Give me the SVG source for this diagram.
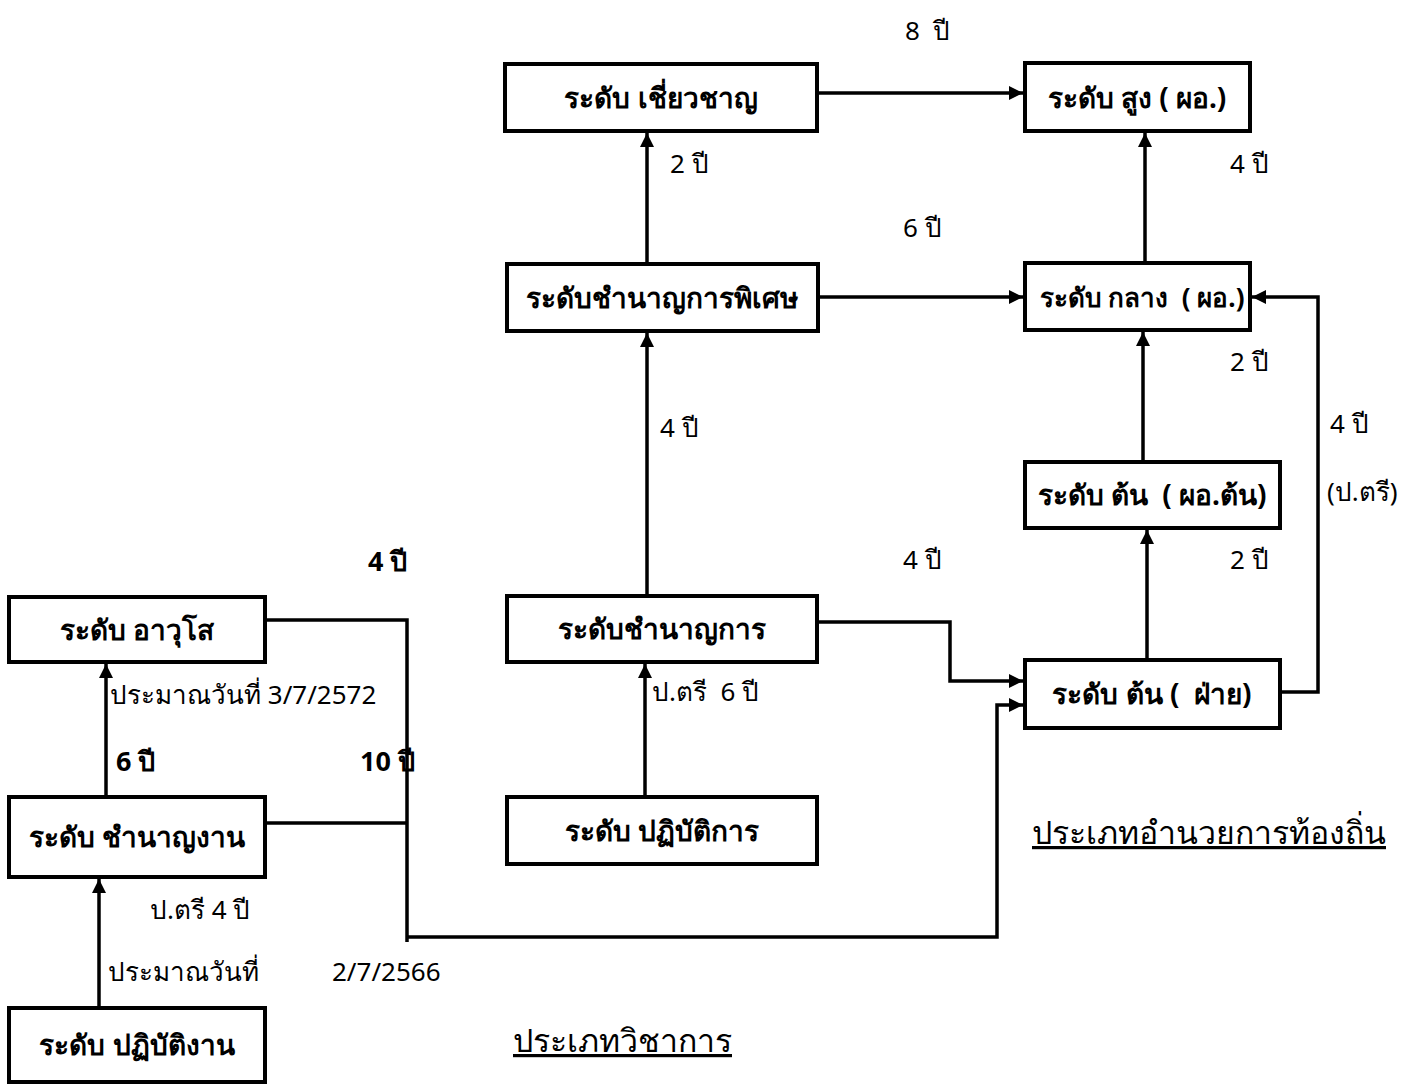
<svg xmlns="http://www.w3.org/2000/svg" width="1416" height="1086" viewBox="0 0 1416 1086">
<style>
text{white-space:pre}
.box{fill:#fff;stroke:#000;stroke-width:4}
.bt{font-family:"Noto Sans","Liberation Sans",sans-serif;font-size:28px;font-weight:bold;text-anchor:middle;fill:#000}
.lb{font-family:"Noto Sans","Liberation Sans",sans-serif;font-size:26px;fill:#000}
.lbb{font-family:"Noto Sans","Liberation Sans",sans-serif;font-size:27px;font-weight:bold;fill:#000}
.ln{fill:none;stroke:#000;stroke-width:3.5}
.ttl{font-family:"Noto Sans","Liberation Sans",sans-serif;font-size:32px;fill:#000;text-decoration:underline}
</style>
<defs>
<marker id="ah" viewBox="0 0 10 10" refX="10" refY="5" markerWidth="16" markerHeight="14" markerUnits="userSpaceOnUse" orient="auto">
<path d="M0,0 L10,5 L0,10 Z" fill="#000"/>
</marker>
</defs>
<g id="connectors">
<path class="ln" d="M817,93 H1023" marker-end="url(#ah)"/>
<path class="ln" d="M647,262 V133" marker-end="url(#ah)"/>
<path class="ln" d="M818,297 H1023" marker-end="url(#ah)"/>
<path class="ln" d="M1145,261 V133" marker-end="url(#ah)"/>
<path class="ln" d="M1143,460 V332" marker-end="url(#ah)"/>
<path class="ln" d="M1147,658 V530" marker-end="url(#ah)"/>
<path class="ln" d="M1282,692 H1318 V297 H1252" marker-end="url(#ah)"/>
<path class="ln" d="M647,594 V333" marker-end="url(#ah)"/>
<path class="ln" d="M645,795 V664" marker-end="url(#ah)"/>
<path class="ln" d="M819,622 H950 V681 H1023" marker-end="url(#ah)"/>
<path class="ln" d="M267,620 H407 V942"/>
<path class="ln" d="M267,823 H407"/>
<path class="ln" d="M407,937 H997 V705 H1023" marker-end="url(#ah)"/>
<path class="ln" d="M106,795 V664" marker-end="url(#ah)"/>
<path class="ln" d="M99,1006 V879" marker-end="url(#ah)"/>
</g>
<g id="n-expert"><rect class="box" x="505" y="64" width="312" height="67"/><text class="bt" x="661" y="108">ระดับ เชี่ยวชาญ</text></g>
<g id="n-high"><rect class="box" x="1025" y="63" width="225" height="68"/><text class="bt" x="1137" y="108">ระดับ สูง ( ผอ.)</text></g>
<g id="n-senior-prof"><rect class="box" x="507" y="264" width="311" height="67"/><text class="bt" x="662" y="308">ระดับชำนาญการพิเศษ</text></g>
<g id="n-mid"><rect class="box" x="1025" y="263" width="225" height="67"/><text class="bt" x="1142" y="307" style="font-size:26px">ระดับ กลาง  ( ผอ.)</text></g>
<g id="n-early-dir"><rect class="box" x="1025" y="462" width="255" height="66"/><text class="bt" x="1152" y="505">ระดับ ต้น  ( ผอ.ต้น)</text></g>
<g id="n-prof"><rect class="box" x="507" y="596" width="310" height="66"/><text class="bt" x="662" y="639">ระดับชำนาญการ</text></g>
<g id="n-early-div"><rect class="box" x="1025" y="660" width="255" height="68"/><text class="bt" x="1152" y="704">ระดับ ต้น (  ฝ่าย)</text></g>
<g id="n-practitioner"><rect class="box" x="507" y="797" width="310" height="67"/><text class="bt" x="662" y="841">ระดับ ปฏิบัติการ</text></g>
<g id="n-senior"><rect class="box" x="9" y="597" width="256" height="65"/><text class="bt" x="137" y="640">ระดับ อาวุโส</text></g>
<g id="n-skilled"><rect class="box" x="9" y="797" width="256" height="80"/><text class="bt" x="137" y="847">ระดับ ชำนาญงาน</text></g>
<g id="n-operator"><rect class="box" x="9" y="1008" width="256" height="74"/><text class="bt" x="137" y="1055">ระดับ ปฏิบัติงาน</text></g>
<g id="labels">
<text class="lb" x="905" y="40">8  ปี</text>
<text class="lb" x="670" y="173">2 ปี</text>
<text class="lb" x="1230" y="173">4 ปี</text>
<text class="lb" x="903" y="237">6 ปี</text>
<text class="lb" x="1230" y="371">2 ปี</text>
<text class="lb" x="660" y="437">4 ปี</text>
<text class="lb" x="1330" y="433">4 ปี</text>
<text class="lb" x="1327" y="501">(ป.ตรี)</text>
<text class="lb" x="903" y="569">4 ปี</text>
<text class="lb" x="1230" y="569">2 ปี</text>
<text class="lbb" x="368" y="571">4 ปี</text>
<text class="lb" x="110" y="704">ประมาณวันที่ 3/7/2572</text>
<text class="lbb" x="116" y="771">6 ปี</text>
<text class="lbb" x="360" y="771">10 ปี</text>
<text class="lb" x="652" y="701">ป.ตรี  6 ปี</text>
<text class="lb" x="150" y="919">ป.ตรี 4 ปี</text>
<text class="lb" x="108" y="981">ประมาณวันที่</text>
<text class="lb" x="332" y="981">2/7/2566</text>
<text class="ttl" x="513" y="1052">ประเภทวิชาการ</text>
<text class="ttl" x="1032" y="844">ประเภทอำนวยการท้องถิ่น</text>
</g>
</svg>
